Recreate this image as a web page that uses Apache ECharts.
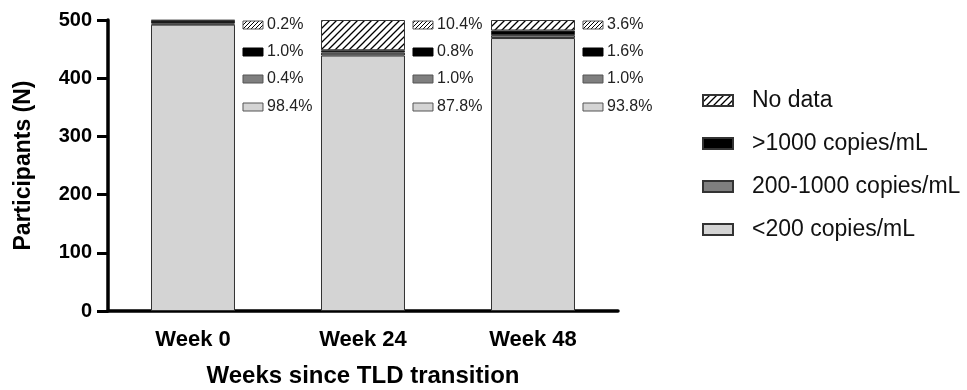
<!DOCTYPE html>
<html>
<head>
<meta charset="utf-8">
<style>
html,body{margin:0;padding:0;background:#fff;}
#chart{width:967px;height:390px;}
</style>
<script src="https://cdn.jsdelivr.net/npm/echarts@6/dist/echarts.min.js"></script>
</head>
<body>
<div id="chart"></div>
<script>
// ---- data ----
const categories = ['Week 0', 'Week 24', 'Week 48'];
const below200 = [492, 439, 469];      // <200 copies/mL
const mid200to1000 = [2, 5, 5];        // 200-1000 copies/mL
const above1000 = [5, 4, 8];           // >1000 copies/mL
const noData = [1, 52, 18];            // No data
const seriesNames = ['<200 copies/mL', '200-1000 copies/mL', '>1000 copies/mL', 'No data'];
const yMin = 0, yMax = 500, yInterval = 100;

// ---- hatch pattern ----
function makeHatch(size, lw) {
  const c = document.createElement('canvas');
  c.width = size; c.height = size;
  const g = c.getContext('2d');
  g.fillStyle = '#fff';
  g.fillRect(0, 0, size, size);
  g.strokeStyle = '#000';
  g.lineWidth = lw;
  g.beginPath();
  g.moveTo(-1, size + 1); g.lineTo(size + 1, -1);
  g.moveTo(-1, 1); g.lineTo(1, -1);
  g.moveTo(size - 1, size + 1); g.lineTo(size + 1, size - 1);
  g.stroke();
  return c;
}
const hatchCanvas = makeHatch(7, 1.3);
const hatchSmall = makeHatch(4, 1);
const hatchFill = { image: hatchCanvas, repeat: 'repeat' };

const colors = ['#d4d4d4', '#7f7f7f', '#000000', hatchFill];
const annotFills = ['#d4d4d4', '#7f7f7f', '#000000', { type: 'pattern', image: hatchSmall, repeat: 'repeat' }];
const stackValues = [below200, mid200to1000, above1000, noData];
const totals = categories.map((_, i) => stackValues.reduce((s, arr) => s + arr[i], 0));

const FONT = "'Liberation Sans', Arial, Helvetica, sans-serif";
const BAR_FRACTION = 0.494;

const chart = echarts.init(document.getElementById('chart'), null, { renderer: 'canvas' });

const barSeries = stackValues.map((vals, k) => ({
  name: seriesNames[k],
  type: 'bar',
  stack: 'total',
  barWidth: (BAR_FRACTION * 100) + '%',
  data: vals,
  itemStyle: { color: colors[k], borderColor: '#333', borderWidth: 1 },
  emphasis: { disabled: true },
  z: 2
}));

const annotSeries = {
  type: 'custom',
  coordinateSystem: 'cartesian2d',
  clip: false,
  silent: true,
  z: 3,
  data: categories.map((c, i) => [i, totals[i]]),
  encode: { x: 0, y: 1 },
  renderItem: function (params, api) {
    const idx = api.value(0);
    const top = api.coord([idx, api.value(1)]);
    const band = api.size([1, 0])[0];
    const x0 = top[0] + band * BAR_FRACTION / 2 + 8;
    const rowOffsets = [5, 32, 59, 87];
    const order = [3, 2, 1, 0]; // No data, >1000, 200-1000, <200
    const children = [];
    order.forEach((k, r) => {
      const cy = top[1] + rowOffsets[r];
      const pct = (stackValues[k][idx] / totals[idx] * 100).toFixed(1) + '%';
      children.push({
        type: 'rect',
        shape: { x: x0, y: cy - 4, width: 20, height: 8 },
        style: { fill: annotFills[k], stroke: k === 2 ? '#000' : '#555', lineWidth: 1 }
      });
      children.push({
        type: 'text',
        style: {
          x: x0 + 24, y: cy, text: pct,
          fill: '#222', font: '16px ' + FONT,
          verticalAlign: 'middle', align: 'left'
        }
      });
    });
    return { type: 'group', children: children };
  }
};

chart.setOption({
  animation: false,
  backgroundColor: '#fff',
  textStyle: { fontFamily: FONT },
  grid: { left: 108, right: 349, top: 20, bottom: 79, containLabel: false, outerBoundsMode: 'none' },
  legend: {
    orient: 'vertical',
    left: 697,
    top: 84,
    icon: 'rect',
    itemWidth: 30,
    itemHeight: 11,
    itemGap: 20,
    selectedMode: false,
    data: ['No data', '>1000 copies/mL', '200-1000 copies/mL', '<200 copies/mL'],
    textStyle: { fontSize: 23, color: '#111', fontFamily: FONT, lineHeight: 23, padding: [0, 0, 0, 14] }
  },
  xAxis: {
    type: 'category',
    data: categories,
    name: 'Weeks since TLD transition',
    nameLocation: 'middle',
    nameGap: 53,
    nameTextStyle: { fontSize: 24, fontWeight: 'bold', color: '#000', fontFamily: FONT },
    axisLine: { lineStyle: { color: '#000', width: 3.5 } },
    axisTick: { alignWithLabel: true, length: 12, lineStyle: { color: '#000', width: 3 } },
    axisLabel: { fontSize: 22, fontWeight: 'bold', color: '#000', margin: 18, fontFamily: FONT }
  },
  yAxis: {
    type: 'value',
    min: yMin, max: yMax, interval: yInterval,
    name: 'Participants (N)',
    nameLocation: 'middle',
    nameGap: 73,
    nameTextStyle: { fontSize: 23, fontWeight: 'bold', color: '#000', fontFamily: FONT },
    splitLine: { show: false },
    axisLine: { show: true, lineStyle: { color: '#000', width: 3.5 } },
    axisTick: { show: true, length: 11, lineStyle: { color: '#000', width: 3 } },
    axisLabel: { fontSize: 20, fontWeight: 'bold', color: '#000', margin: 16, fontFamily: FONT }
  },
  series: barSeries.concat([annotSeries])
});
</script>
</body>
</html>
